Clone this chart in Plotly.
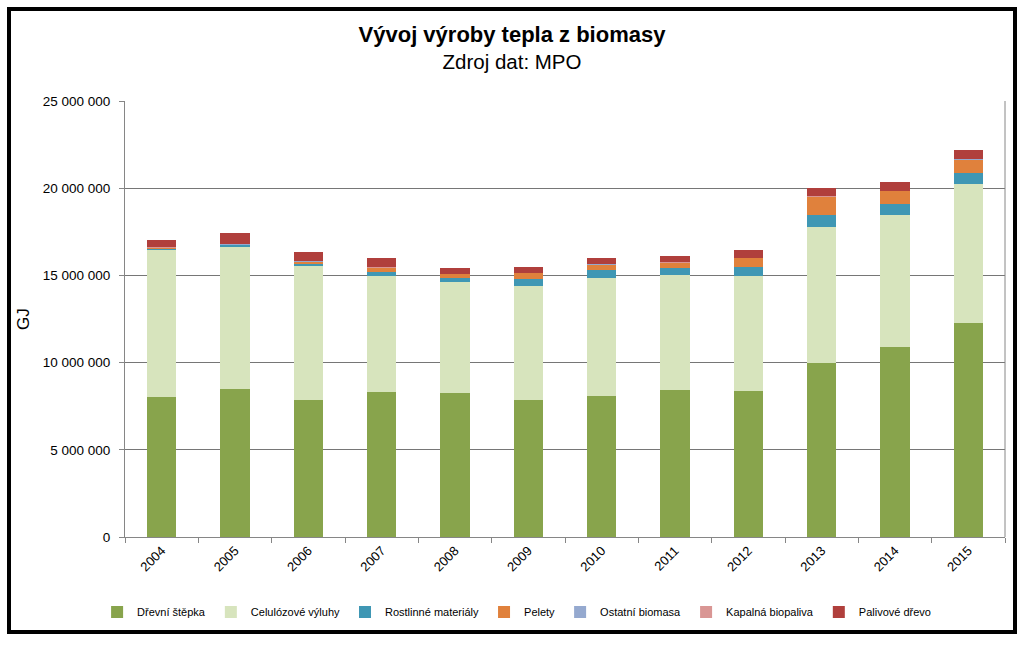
import plotly.graph_objects as go

years = ["2004", "2005", "2006", "2007", "2008", "2009", "2010", "2011", "2012", "2013", "2014", "2015"]

drevni_stepka = [8030000, 8490000, 7870000, 8310000, 8260000, 7870000, 8080000, 8410000, 8370000, 9990000, 10880000, 12290000]
celulozove_vyluhy = [8400000, 8140000, 7690000, 6670000, 6360000, 6520000, 6770000, 6590000, 6600000, 7800000, 7560000, 7930000]
rostlinne_materialy = [140000, 120000, 110000, 230000, 230000, 380000, 460000, 420000, 540000, 690000, 670000, 650000]
pelety = [20000, 50000, 150000, 230000, 230000, 380000, 340000, 310000, 500000, 1030000, 730000, 800000]
ostatni_biomasa = [10000, 10000, 10000, 10000, 10000, 10000, 10000, 10000, 10000, 10000, 10000, 10000]
kapalna_biopaliva = [5000, 5000, 5000, 5000, 5000, 5000, 5000, 5000, 5000, 5000, 5000, 5000]
palivove_drevo = [400000, 630000, 530000, 570000, 340000, 310000, 340000, 380000, 420000, 480000, 500000, 500000]

series = [
    ("Dřevní štěpka", drevni_stepka, "#88A44C"),
    ("Celulózové výluhy", celulozove_vyluhy, "#D7E4BD"),
    ("Rostlinné materiály", rostlinne_materialy, "#3F97B4"),
    ("Pelety", pelety, "#E0813C"),
    ("Ostatní biomasa", ostatni_biomasa, "#95A9CF"),
    ("Kapalná biopaliva", kapalna_biopaliva, "#D99694"),
    ("Palivové dřevo", palivove_drevo, "#B03F3C"),
]

FONT = "Liberation Sans, Arial, sans-serif"

fig = go.Figure()
for name, vals, color in series:
    fig.add_trace(go.Bar(
        x=years, y=vals, name=name,
        marker=dict(color=color, line=dict(width=0)),
    ))

fig.update_layout(
    barmode="stack",
    bargap=0.6,
    width=1024, height=648,
    paper_bgcolor="white",
    plot_bgcolor="white",
    separators=", ",
    font=dict(family=FONT, color="black", size=12),
    margin=dict(l=125, r=19, t=101, b=111, autoexpand=False),
    title=dict(
        text="<b><span style='font-size:22px'>Vývoj výroby tepla z biomasy</span></b><br>"
             "<span style='font-size:20.5px'>Zdroj dat: MPO</span>",
        x=0.5, xanchor="center", y=0.935, yanchor="middle",
        font=dict(family=FONT, size=21, color="black"),
    ),
    showlegend=True,
    legend=dict(
        orientation="h",
        x=0.445, xanchor="center",
        y=-0.172, yanchor="middle",
        font=dict(family=FONT, size=11, color="black"),
        itemwidth=30,
        traceorder="normal",
        bgcolor="rgba(0,0,0,0)",
    ),
    xaxis=dict(
        type="category",
        tickangle=-45,
        tickfont=dict(family=FONT, size=13),
        showline=True, linecolor="#868686", linewidth=1,
        ticks="outside", ticklen=5, tickcolor="#868686",
        tickson="boundaries",
        showgrid=False,
        mirror=False,
    ),
    yaxis=dict(
        range=[0, 25000000],
        tickvals=[0, 5000000, 10000000, 15000000, 20000000, 25000000],
        tickformat=",d",
        tickfont=dict(family=FONT, size=13.5),
        ticklabelstandoff=6,
        showline=True, linecolor="#868686", linewidth=1,
        ticks="outside", ticklen=5, tickcolor="#868686",
        showgrid=True, gridcolor="#767676", gridwidth=1,
        zeroline=False,
        title=dict(text="GJ", font=dict(family=FONT, size=17), standoff=8),
    ),
    shapes=[
        dict(type="line", xref="paper", yref="paper", x0=1, x1=1, y0=0, y1=1,
             line=dict(color="#868686", width=1)),
        dict(type="rect", xref="paper", yref="paper",
             x0=(9 - 125) / 880, x1=(1015 - 125) / 880,
             y0=(537 - 632) / 436, y1=(537 - 9) / 436,
             line=dict(color="black", width=4), fillcolor="rgba(0,0,0,0)", layer="above"),
    ],
)

fig.write_html(
    "out.html",
    config={"displayModeBar": False},
    post_script="document.body.style.margin='0';document.body.style.overflow='hidden';",
)
